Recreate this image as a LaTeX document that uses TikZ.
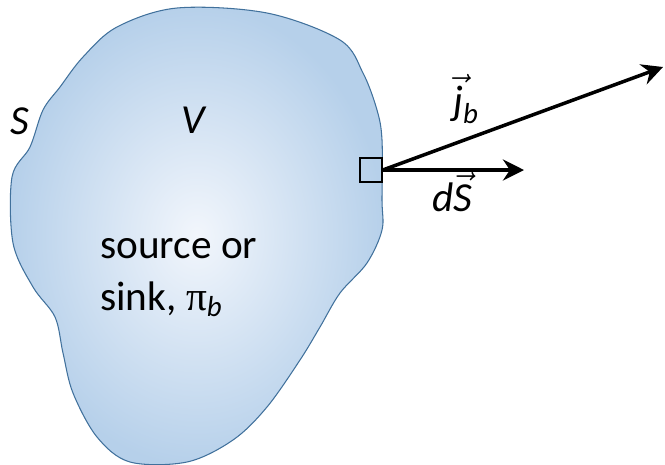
\documentclass[tikz,border=0pt]{standalone}
\usepackage{amsmath}
\usepackage{fontspec}
\setmainfont{Carlito}
\newfontfamily\greekfont{Liberation Serif}
\usetikzlibrary{arrows.meta}
\definecolor{blobedge}{HTML}{41719C}
\definecolor{blobout}{HTML}{B6D0EA}
\definecolor{blobin}{HTML}{F2F6FC}

\begin{document}
\begin{tikzpicture}[
  x=0.02cm, y=-0.02cm,
  every node/.style={font=\fontsize{23.5}{28}\selectfont, inner sep=0pt},
  blob/.style={draw=blobedge, line width=0.6pt, inner color=blobin, outer color=blobout},
  patch/.style={draw=black, line width=0.9pt, minimum width=0.44cm, minimum height=0.48cm},
  vecarrow/.style={line width=2pt, -{Stealth[length=12pt, width=12pt, inset=4pt]}}
]
  \useasboundingbox (0,0) rectangle (665,464);

  %% ---- volume V with surface S ----------------------------------------
  \shadedraw[blob] plot[smooth cycle, tension=0.55] coordinates {
    (177,8) (267,13) (340,40) (363,73) (377,110) (382,140) (382,200)
    (382,230) (367,263) (340,293) (320,327) (300,360) (267,407) (233,440)
    (187,462) (130,462) (97,437) (73,393) (63,353) (55,317) (33,287)
    (13,243) (12,177) (30,147) (43,110) (60,87) (83,57) (117,27)};

  \node (Slab) at (20,121) {\itshape S};
  \node (Vlab) at (193,120) {\itshape V};
  \node[anchor=base west] (src) at (100,258) {source or};
  \node[anchor=base west] (sink) at (100,310)
    {sink, {\greekfont π}$_{\text{\itshape b}}$};

  %% ---- surface element and vectors ------------------------------------
  \node[patch] (dA) at (371,170) {};
  \coordinate (jtip) at (663,67);
  \coordinate (dstip) at (524,170);
  \draw[vecarrow] (dA.east) -- (jtip);
  \draw[vecarrow] (dA.east) -- (dstip);

  \node (jlab) at (466,99) {$\vec{\text{\itshape j}}_{\text{\itshape b}}$};
  \node (dSlab) at (452,192) {{\itshape d}$\vec{\text{\itshape S}}$};

\end{tikzpicture}
\end{document}
